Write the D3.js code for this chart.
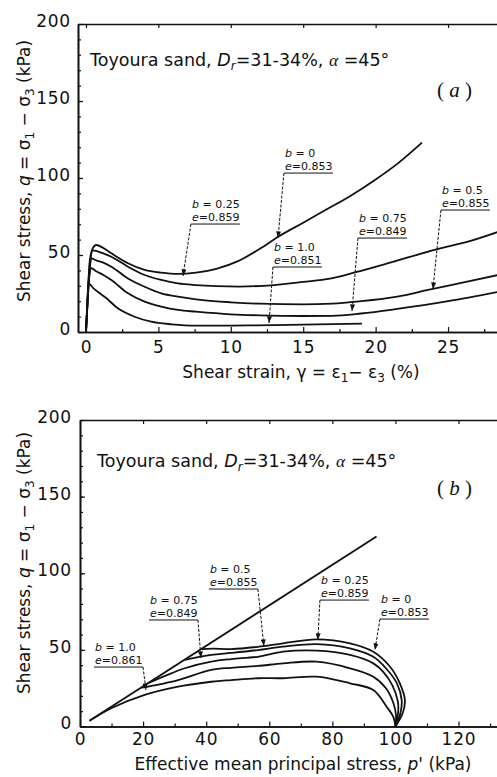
<!DOCTYPE html>
<html>
<head>
<meta charset="utf-8">
<script src="https://cdn.jsdelivr.net/npm/d3@7"></script>
<style>
body{margin:0;background:#fff}
svg{display:block;font-family:"DejaVu Sans",sans-serif}
</style>
</head>
<body>
<script>
// values (Toyoura sand, alpha = 45 deg)
const bValues = ["0", "0.25", "0.5", "0.75", "1.0"]
const voidRatioA = ["0.853", "0.859", "0.855", "0.849", "0.851"]
const voidRatioB = ["0.853", "0.859", "0.855", "0.849", "0.861"]

// (a) shear stress q (kPa) vs shear strain (%)
const strainB0 = [[0,0],[0.1,20],[0.25,45],[0.45,54],[0.71,56.5],[1.2,54.5],[1.75,51.1],[2.9,44.6],[4.05,40.3],[5.2,38.5],[6.35,37.7],[7.6,38.5],[9,41],[10.5,46],[12,54],[13.3,62],[15,71],[16.5,79],[18.2,88],[20,99],[21.6,110],[23.2,123]]
const strainB025 = [[0,0],[0.1,19],[0.25,42],[0.48,53],[0.75,52.5],[1.2,51],[1.75,48.9],[2.9,42.4],[4.05,37],[5.2,33.8],[6.35,31.6],[7.6,30.5],[9,29.8],[10.6,29.5],[13,30.5],[15,32.5],[16.85,34.6],[18.7,39],[21,45],[24.2,53.7],[26.5,59],[28.45,65]]
const strainB05 = [[0,0],[0.1,18],[0.25,40],[0.37,47.8],[0.7,46.5],[1.2,45],[1.75,42.4],[2.9,34.8],[4.05,29.4],[5.2,25.1],[6.35,22.9],[7.6,21.2],[10,19.3],[12,18.4],[15,18],[17,18.4],[19,20],[21.5,23],[23.7,27.5],[26,32],[28.45,37]]
const strainB075 = [[0,0],[0.1,17],[0.22,35],[0.37,41.4],[0.7,39.5],[1.2,37],[1.75,33.8],[2.9,25.1],[4.05,19.7],[5.2,16.5],[6.35,14.3],[7.6,13.2],[10,11.5],[12,10.8],[15,10.4],[17,10.5],[19,12],[21.5,15],[25,20],[28.45,26]]
const strainB1 = [[0,0],[0.08,15],[0.18,31.6],[0.5,28.5],[0.9,25.5],[1.29,22.9],[2.2,15.4],[3.36,9.9],[4.5,6.7],[5.9,5],[7.6,4.1],[10,4.2],[13,4.5],[16,4.9],[19.05,5.5]]

// (b) stress paths, q (kPa) vs p' (kPa)
const pathB0 = [[100,0],[102.3,8.6],[103,17.3],[101.4,28.2],[98.3,39],[93,48.8],[85.6,54.3],[75,56.9],[64.4,54.3],[56.4,52],[48,50.5],[42,50.8],[38.5,50.5]]
const pathB025 = [[100,0],[101.5,8],[102,17],[100.5,28],[97,38],[93,45.5],[85.6,51],[75,53.8],[64.4,52.1],[56.4,49.9],[48,48],[41.6,46.7],[33.2,43.5]]
const pathB05 = [[100,0],[100.8,8],[100.8,16],[99,27],[96,36],[93,41.2],[85.6,46.7],[75,49.5],[64.4,48.8],[56.4,45.5],[48,44],[41.6,42.3],[33.2,38],[27,33],[21.6,28.2]]
const pathB075 = [[100,0],[100.2,7],[99.4,15],[97,25],[93,32.5],[85.6,38],[75,42.3],[64.4,41.2],[56.4,39.5],[48,38.3],[41.6,36.9],[31.1,30.3],[24,27],[19.4,25.3]]
const pathB1 = [[100,0],[99.3,6.4],[97.2,12.9],[93,23.8],[85.6,28.2],[75,32.5],[64.4,31.5],[56.4,31.5],[48,30.3],[41.6,29.2],[31.1,26],[20.5,20.6],[9.9,11.9],[3,3.7]]
const failureLine = [[3,3.7],[94,124]]

const strainTicks = [0, 5, 10, 15, 20, 25]
const pTicks = [0, 20, 40, 60, 80, 100, 120]
const qTicks = [0, 50, 100, 150, 200]

// label anchor / arrow tip, in data units
const notesA = [
  {i:0, from:[13.67,103.2], tip:[13.26,61.0], side:"left"},
  {i:1, from:[7.25,70.1], tip:[6.70,36.4], side:"left"},
  {i:2, from:[24.51,79.2], tip:[23.96,27.9], side:"left"},
  {i:3, from:[18.78,61.0], tip:[18.37,13.6], side:"left"},
  {i:4, from:[12.91,42.2], tip:[12.64,5.8], side:"left"}
]
const notesB = [
  {i:0, from:[95.1,70.1], tip:[93.5,49.9], side:"left"},
  {i:1, from:[76.07,82.5], tip:[75.4,56.4], side:"left"},
  {i:2, from:[56.4,89.7], tip:[58.3,52.5], side:"right"},
  {i:3, from:[37.4,69.5], tip:[38.35,44.7], side:"right"},
  {i:4, from:[19.97,38.8], tip:[20.92,23.8], side:"right"}
]

const W = 497, H = 777
const svg = d3.select("body").append("svg").attr("width", W).attr("height", H)
svg.append("rect").attr("width", W).attr("height", H).attr("fill", "#fff")

svg.append("defs").append("marker")
  .attr("id", "arr").attr("viewBox", "0 0 8 6").attr("refX", 8).attr("refY", 3)
  .attr("markerWidth", 7).attr("markerHeight", 5).attr("markerUnits", "userSpaceOnUse")
  .attr("orient", "auto")
  .append("path").attr("d", "M0,0 L8,3 L0,6 z").attr("fill", "#111")

const ink = "#111"

function panel(cfg) {
  const g = svg.append("g")
  const x = cfg.x, y = cfg.y
  const [x0, x1] = x.range(), [yb, yt] = y.range()

  // frame: bottom, left, top
  const bottom = g.append("g").attr("transform", `translate(0,${yb})`)
    .call(d3.axisBottom(x).tickValues(cfg.xTicks).tickSize(-5).tickSizeOuter(0))
  bottom.selectAll("text").attr("y", cfg.xLabelDy).attr("dy", null)
  g.append("g").attr("transform", `translate(0,${yb})`)
    .call(d3.axisBottom(x).tickValues(cfg.xMinor).tickSize(-3).tickSizeOuter(0).tickFormat(""))
  g.append("g").attr("transform", `translate(0,${yt})`)
    .call(d3.axisTop(x).tickValues(cfg.xTicks).tickSize(-4).tickSizeOuter(0).tickFormat(""))
  const left = g.append("g").attr("transform", `translate(${x0},0)`)
    .call(d3.axisLeft(y).tickValues(qTicks).tickSize(-5).tickSizeOuter(0))
  left.selectAll("text").attr("x", cfg.yLabelDx).attr("y", -3)
  g.append("g").attr("transform", `translate(${x0},0)`)
    .call(d3.axisLeft(y).tickValues(d3.range(10, 200, 10)).tickSize(-3).tickSizeOuter(0).tickFormat(""))

  g.selectAll(".domain").attr("stroke", ink).attr("stroke-width", 1.6)
  g.selectAll(".tick line").attr("stroke", ink).attr("stroke-width", 1.2)
  g.selectAll(".tick text").attr("fill", ink).style("font-size", "17px")
    .style("font-family", '"DejaVu Sans",sans-serif').style("letter-spacing", "0.8px")

  // curves
  const line = d3.line().x(d => x(d[0])).y(d => y(d[1])).curve(cfg.curve)
  cfg.series.forEach(s => {
    g.append("path").attr("d", line(s)).attr("fill", "none")
      .attr("stroke", ink).attr("stroke-width", 1.8).attr("stroke-linejoin", "round")
  })
  if (cfg.straight) {
    g.append("path").attr("d", d3.line().x(d => x(d[0])).y(d => y(d[1]))(cfg.straight))
      .attr("fill", "none").attr("stroke", ink).attr("stroke-width", 1.8)
  }

  // annotations
  cfg.notes.forEach(n => {
    const fx = x(n.from[0]), fy = y(n.from[1])
    const w = 49
    const lx = n.side === "left" ? fx : fx - w
    g.append("line").attr("x1", lx).attr("x2", lx + w).attr("y1", fy).attr("y2", fy)
      .attr("stroke", ink).attr("stroke-width", 1)
    const t1 = g.append("text").attr("x", lx + 1).attr("y", fy - 16.3).attr("fill", ink).style("font-size", "11px")
    t1.append("tspan").attr("font-style", "italic").text("b")
    t1.append("tspan").text(" = " + bValues[n.i])
    const t2 = g.append("text").attr("x", lx + 1).attr("y", fy - 3.2).attr("fill", ink).style("font-size", "11px")
    t2.append("tspan").attr("font-style", "italic").text("e")
    t2.append("tspan").text("=" + cfg.voids[n.i])
    g.append("line").attr("x1", fx).attr("y1", fy).attr("x2", x(n.tip[0])).attr("y2", y(n.tip[1]))
      .attr("stroke", ink).attr("stroke-width", 1).attr("stroke-dasharray", "3,1.5")
      .attr("marker-end", "url(#arr)")
  })

  // sample description
  const d = g.append("text").attr("x", cfg.descX).attr("y", cfg.descY).attr("fill", ink).style("font-size", "17.5px")
  d.append("tspan").text("Toyoura sand, ")
  d.append("tspan").attr("font-style", "italic").text("D")
  d.append("tspan").attr("font-style", "italic").attr("font-size", "12px").attr("dy", 4).text("r")
  d.append("tspan").attr("dy", -4).text("=31-34%, ")
  d.append("tspan").attr("font-style", "italic").attr("font-family", "Liberation Serif").text("α")
  d.append("tspan").text(" =45°")

  const tag = g.append("text").attr("x", 437).attr("y", cfg.tagY).attr("fill", ink)
    .style("font-size", "21px").style("font-family", '"Liberation Serif",serif')
  tag.append("tspan").text("( ")
  tag.append("tspan").attr("font-style", "italic").text(cfg.tag)
  tag.append("tspan").text(" )")

  // y title
  const yt2 = g.append("text").attr("transform", `translate(30,${cfg.yTitleY}) rotate(-90)`)
    .attr("text-anchor", "middle").attr("fill", ink).style("font-size", "17px")
  yt2.append("tspan").text("Shear stress, ")
  yt2.append("tspan").attr("font-style", "italic").text("q")
  yt2.append("tspan").text(" = σ")
  yt2.append("tspan").attr("font-size", "12px").attr("dy", 4).text("1")
  yt2.append("tspan").attr("dy", -4).text(" − σ")
  yt2.append("tspan").attr("font-size", "12px").attr("dy", 4).text("3")
  yt2.append("tspan").attr("dy", -4).text(" (kPa)")

  const xt = g.append("text").attr("x", cfg.xTitleX).attr("y", cfg.xTitleY)
    .attr("text-anchor", "middle").attr("fill", ink).style("font-size", "17px")
  cfg.xTitle(xt)
}

panel({
  x: d3.scaleLinear().domain([-0.55, 28.45]).range([78, 498]),
  y: d3.scaleLinear().domain([0, 200]).range([332, 24]),
  xTicks: strainTicks, xMinor: [2.5, 7.5, 12.5, 17.5, 22.5, 27.5],
  xLabelDy: 21, yLabelDx: -7,
  curve: d3.curveMonotoneX,
  series: [strainB0, strainB025, strainB05, strainB075, strainB1],
  notes: notesA, voids: voidRatioA,
  descX: 90, descY: 66, tag: "a", tagY: 97,
  yTitleY: 171,
  xTitleX: 301, xTitleY: 378,
  xTitle: t => {
    t.append("tspan").text("Shear strain,  γ = ε")
    t.append("tspan").attr("font-size", "12px").attr("dy", 4).text("1")
    t.append("tspan").attr("dy", -4).text("− ε")
    t.append("tspan").attr("font-size", "12px").attr("dy", 4).text("3")
    t.append("tspan").attr("dy", -4).text(" (%)")
  }
})

panel({
  x: d3.scaleLinear().domain([0, 132.2]).range([80, 497]),
  y: d3.scaleLinear().domain([0, 200]).range([726.5, 420]),
  xTicks: pTicks, xMinor: [10, 30, 50, 70, 90, 110, 130],
  xLabelDy: 18.5, yLabelDx: -8,
  curve: d3.curveCatmullRom.alpha(0.5),
  series: [pathB0, pathB025, pathB05, pathB075, pathB1],
  straight: failureLine,
  notes: notesB, voids: voidRatioB,
  descX: 97, descY: 467, tag: "b", tagY: 495,
  yTitleY: 563,
  xTitleX: 303, xTitleY: 770,
  xTitle: t => {
    t.append("tspan").text("Effective mean principal stress, ")
    t.append("tspan").attr("font-style", "italic").text("p")
    t.append("tspan").text("' (kPa)")
  }
})
</script>
</body>
</html>
